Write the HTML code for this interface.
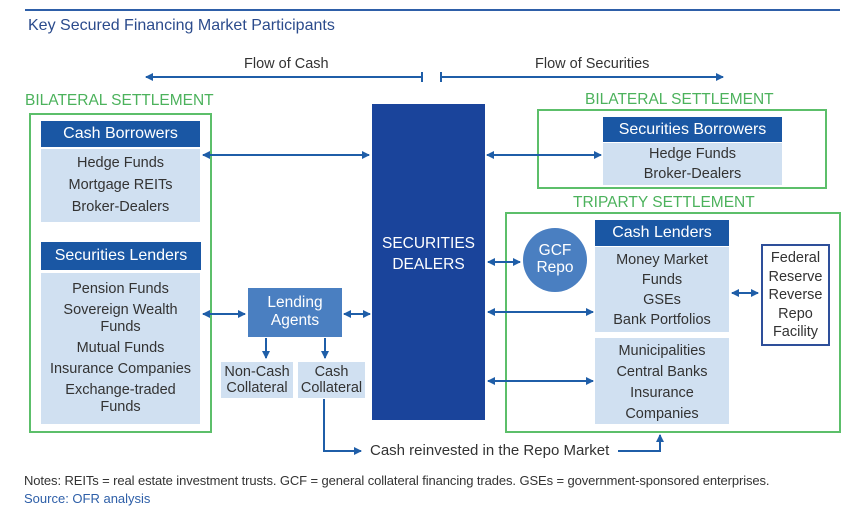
<!DOCTYPE html>
<html><head><meta charset="utf-8"><style>
*{margin:0;padding:0;box-sizing:border-box}
body{width:865px;height:513px;background:#fff;position:relative;overflow:hidden;font-family:"Liberation Sans",sans-serif;color:#333}
.a{position:absolute;white-space:nowrap}
.hdr{position:absolute;background:#1a57a4;color:#fff;font-size:16px;text-align:center;white-space:nowrap}
.lt{position:absolute;background:#d0e0f1;color:#333;font-size:14.5px;text-align:center;white-space:nowrap}
.g{position:absolute;border:2px solid #5cbf6a}
.gl{position:absolute;color:#4cb25c;font-size:15.5px;white-space:nowrap}
</style></head><body>
<div class="a" style="left:25px;top:9px;width:815px;height:2px;background:#2e5fa8"></div>
<div class="a" style="left:28px;top:17px;font-size:16px;color:#2b4b8c">Key Secured Financing Market Participants</div>
<div class="a" style="left:244px;top:56px;font-size:14.5px">Flow of Cash</div>
<div class="a" style="left:535px;top:56px;font-size:14.5px">Flow of Securities</div>

<div class="gl" style="left:25px;top:92px">BILATERAL SETTLEMENT</div>
<div class="g" style="left:29px;top:113px;width:183px;height:320px"></div>
<div class="hdr" style="left:41px;top:121px;width:159px;height:26px;line-height:26px">Cash Borrowers</div>
<div class="lt" style="left:41px;top:149px;width:159px;height:73px;line-height:22px;padding-top:3px">Hedge Funds<br>Mortgage REITs<br>Broker-Dealers</div>
<div class="hdr" style="left:41px;top:242px;width:160px;height:28px;line-height:28px">Securities Lenders</div>
<div class="lt" style="left:41px;top:273px;width:159px;height:151px;padding-top:6px">
<div style="line-height:21px">Pension Funds</div>
<div style="line-height:17px;margin-top:2px">Sovereign Wealth<br>Funds</div>
<div style="line-height:21px;margin-top:2px">Mutual Funds</div>
<div style="line-height:21px">Insurance Companies</div>
<div style="line-height:17px;margin-top:2px">Exchange-traded<br>Funds</div>
</div>

<div class="a" style="left:372px;top:104px;width:113px;height:316px;background:#1a449b;color:#fff;font-size:15.5px;text-align:center;padding-top:129px;line-height:21px">SECURITIES<br>DEALERS</div>

<div class="a" style="left:248px;top:288px;width:94px;height:49px;background:#4a7fc1;color:#fff;font-size:15.5px;text-align:center;line-height:18px;padding-top:6px">Lending<br>Agents</div>
<div class="lt" style="left:221px;top:362px;width:72px;height:36px;line-height:16px;padding-top:2px">Non-Cash<br>Collateral</div>
<div class="lt" style="left:298px;top:362px;width:67px;height:36px;line-height:16px;padding-top:2px">Cash<br>Collateral</div>

<div class="gl" style="left:585px;top:91px">BILATERAL SETTLEMENT</div>
<div class="g" style="left:537px;top:109px;width:290px;height:80px"></div>
<div class="hdr" style="left:603px;top:117px;width:179px;height:25px;line-height:25px">Securities Borrowers</div>
<div class="lt" style="left:603px;top:143px;width:179px;height:42px;line-height:20px;padding-top:1px">Hedge Funds<br>Broker-Dealers</div>

<div class="gl" style="left:573px;top:194px">TRIPARTY SETTLEMENT</div>
<div class="g" style="left:505px;top:212px;width:336px;height:221px"></div>
<div class="a" style="left:523px;top:228px;width:64px;height:64px;border-radius:50%;background:#4a7fc1;color:#fff;font-size:15.5px;text-align:center;line-height:17px;padding-top:14px">GCF<br>Repo</div>
<div class="hdr" style="left:595px;top:220px;width:134px;height:26px;line-height:26px">Cash Lenders</div>
<div class="lt" style="left:595px;top:247px;width:134px;height:85px;line-height:20px;padding-top:3px"><span style="line-height:17px">Money Market<br>Funds</span><br>GSEs<br>Bank Portfolios</div>
<div class="lt" style="left:595px;top:338px;width:134px;height:86px;line-height:21px;padding-top:3px">Municipalities<br>Central Banks<br><span style="line-height:16px">Insurance<br>Companies</span></div>
<div class="a" style="left:761px;top:244px;width:69px;height:102px;border:2px solid #2e4f9a;font-size:14.5px;text-align:center;line-height:18.5px;padding-top:3px;color:#333">Federal<br>Reserve<br>Reverse<br>Repo<br>Facility</div>

<div class="a" style="left:370px;top:442px;font-size:15px">Cash reinvested in the Repo Market</div>
<div class="a" style="left:24px;top:473px;font-size:13px;letter-spacing:-0.1px;color:#333">Notes: REITs = real estate investment trusts. GCF = general collateral financing trades. GSEs = government-sponsored enterprises.</div>
<div class="a" style="left:24px;top:491px;font-size:13px;color:#2e5fa8">Source: OFR analysis</div>

<svg class="a" style="left:0;top:0" width="865" height="513">
<defs>
<marker id="m" markerWidth="8" markerHeight="8" refX="7" refY="4" orient="auto-start-reverse" markerUnits="userSpaceOnUse"><path d="M0,0 L8,4 L0,8 Z" fill="#1f5ea8"/></marker>
</defs>
<g stroke="#1f5ea8" stroke-width="2" fill="none">
<line x1="146" y1="77" x2="422" y2="77" marker-start="url(#m)"/>
<line x1="422" y1="72" x2="422" y2="82"/>
<line x1="441" y1="72" x2="441" y2="82"/>
<line x1="441" y1="77" x2="723" y2="77" marker-end="url(#m)"/>
<line x1="203" y1="155" x2="369" y2="155" marker-start="url(#m)" marker-end="url(#m)"/>
<line x1="487" y1="155" x2="601" y2="155" marker-start="url(#m)" marker-end="url(#m)"/>
<line x1="488" y1="262" x2="520" y2="262" marker-start="url(#m)" marker-end="url(#m)"/>
<line x1="488" y1="312" x2="593" y2="312" marker-start="url(#m)" marker-end="url(#m)"/>
<line x1="488" y1="381" x2="593" y2="381" marker-start="url(#m)" marker-end="url(#m)"/>
<line x1="732" y1="293" x2="758" y2="293" marker-start="url(#m)" marker-end="url(#m)"/>
<line x1="203" y1="314" x2="245" y2="314" marker-start="url(#m)" marker-end="url(#m)"/>
<line x1="344" y1="314" x2="370" y2="314" marker-start="url(#m)" marker-end="url(#m)"/>
<line x1="266" y1="338" x2="266" y2="358" marker-end="url(#m)"/>
<line x1="325" y1="338" x2="325" y2="358" marker-end="url(#m)"/>
<polyline points="324,399 324,451 361,451" marker-end="url(#m)"/>
<polyline points="618,451 660,451 660,435" marker-end="url(#m)"/>
</g>
</svg>
</body></html>
